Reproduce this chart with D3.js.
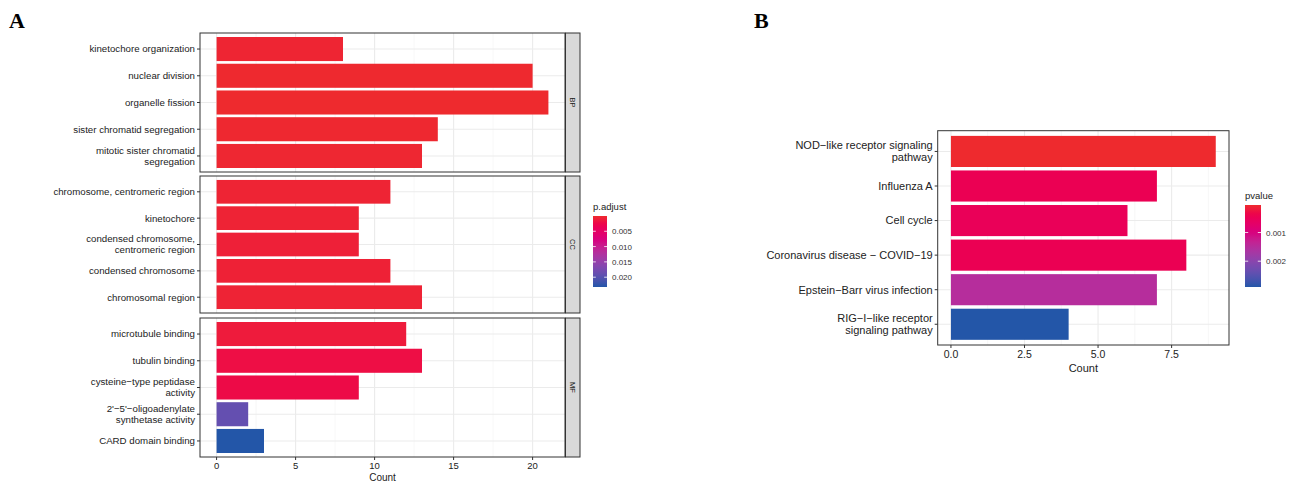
<!DOCTYPE html>
<html>
<head>
<meta charset="utf-8">
<script src="https://cdn.jsdelivr.net/npm/d3@7"></script>
<style>
  body { margin: 0; background: #fff; }
  svg { display: block; font-family: "Liberation Sans", Arial, sans-serif; }
</style>
</head>
<body>
<svg id="chart" width="1297" height="485"></svg>
<script>
// ---- data: panel A (GO), top-to-bottom within each facet
const goFacets = ["BP", "CC", "MF"];
const goTerms = [
  ["kinetochore organization", "nuclear division", "organelle fission",
   "sister chromatid segregation", "mitotic sister chromatid\nsegregation"],
  ["chromosome, centromeric region", "kinetochore", "condensed chromosome,\ncentromeric region",
   "condensed chromosome", "chromosomal region"],
  ["microtubule binding", "tubulin binding", "cysteine\u2212type peptidase\nactivity",
   "2'\u22125'\u2212oligoadenylate\nsynthetase activity", "CARD domain binding"]
];
const goCounts = [
  [8, 20, 21, 14, 13],
  [11, 9, 9, 11, 13],
  [12, 13, 9, 2, 3]
];
const goPadj = [
  [0.0004, 0.0001, 0.00002, 0.0002, 0.0003],
  [0.0005, 0.0006, 0.0008, 0.0007, 0.0006],
  [0.0012, 0.0020, 0.0022, 0.0190, 0.0232]
];
const goTicks = [0, 5, 10, 15, 20];
const goLegendTicks = [0.005, 0.010, 0.015, 0.020];

// ---- data: panel B (KEGG)
const keggTerms = ["NOD\u2212like receptor signaling\npathway", "Influenza A", "Cell cycle",
  "Coronavirus disease \u2212 COVID\u221219", "Epstein\u2212Barr virus infection",
  "RIG\u2212I\u2212like receptor\nsignaling pathway"];
const keggCounts = [9, 7, 6, 8, 7, 4];
const keggP = [0.00004, 0.00045, 0.0005, 0.00045, 0.0015, 0.0029];
const keggTicks = [0, 2.5, 5, 7.5];
const keggLegendTicks = [0.001, 0.002];

const LOW = "#EE2A2E", HIGH = "#2356A8";
const svg = d3.select("#chart");

function colorScale(vals) {
  return d3.scaleLinear().domain(d3.extent(vals)).range([LOW, HIGH]).interpolate(d3.interpolateHcl);
}

// draws one ggplot-like panel of horizontal bars
function drawPanel(g, terms, counts, fills, x, y0, y1, fontSize, tickVals, minorVals) {
  const y = d3.scaleBand().domain(terms).range([y0, y1]).paddingInner(0.1).paddingOuter(0.15);
  const [xl, xr] = x.range();
  g.append("rect").attr("x", xl).attr("y", y0).attr("width", xr - xl).attr("height", y1 - y0).attr("fill", "#fff");
  g.selectAll(".minor").data(minorVals).join("line")
    .attr("x1", d => x(d)).attr("x2", d => x(d)).attr("y1", y0).attr("y2", y1)
    .attr("stroke", "#F2F2F2").attr("stroke-width", 0.6);
  g.selectAll(".major").data(tickVals).join("line")
    .attr("x1", d => x(d)).attr("x2", d => x(d)).attr("y1", y0).attr("y2", y1)
    .attr("stroke", "#EBEBEB").attr("stroke-width", 1.1);
  g.selectAll(".hgrid").data(terms).join("line")
    .attr("x1", xl).attr("x2", xr).attr("y1", d => y(d) + y.bandwidth() / 2).attr("y2", d => y(d) + y.bandwidth() / 2)
    .attr("stroke", "#EBEBEB").attr("stroke-width", 1.1);
  g.selectAll(".bar").data(terms).join("rect")
    .attr("x", x(0)).attr("y", d => y(d))
    .attr("width", (d, i) => x(counts[i]) - x(0)).attr("height", y.bandwidth())
    .attr("fill", (d, i) => fills[i]);
  g.append("rect").attr("x", xl).attr("y", y0).attr("width", xr - xl).attr("height", y1 - y0)
    .attr("fill", "none").attr("stroke", "#333").attr("stroke-width", 1);
  // y ticks + labels
  terms.forEach(t => {
    const cy = y(t) + y.bandwidth() / 2;
    g.append("line").attr("x1", xl - 3).attr("x2", xl).attr("y1", cy).attr("y2", cy).attr("stroke", "#333");
    const lines = t.split("\n");
    const lh = fontSize * 1.12;
    const txt = g.append("text").attr("text-anchor", "end").attr("font-size", fontSize).attr("fill", "#222");
    lines.forEach((l, i) => {
      txt.append("tspan").attr("x", xl - 5)
        .attr("y", cy + fontSize * 0.35 + (i - (lines.length - 1) / 2) * lh).text(l);
    });
  });
  return y;
}

function drawXAxis(g, x, yb, ticks, fmt, fontSize) {
  ticks.forEach(t => {
    g.append("line").attr("x1", x(t)).attr("x2", x(t)).attr("y1", yb).attr("y2", yb + 3).attr("stroke", "#333");
    g.append("text").attr("x", x(t)).attr("y", yb + 4 + fontSize * 0.85).attr("text-anchor", "middle")
      .attr("font-size", fontSize).attr("fill", "#222").text(fmt(t));
  });
}

function drawLegend(g, title, vals, ticks, fmt, bx, by, bw, bh) {
  const id = "grad" + title.replace(/\W/g, "");
  const grad = svg.append("defs").append("linearGradient").attr("id", id)
    .attr("x1", 0).attr("y1", 0).attr("x2", 0).attr("y2", 1);
  const c = colorScale(vals);
  const ext = d3.extent(vals);
  d3.range(0, 1.0001, 0.05).forEach(f => {
    grad.append("stop").attr("offset", f).attr("stop-color", c(ext[0] + f * (ext[1] - ext[0])));
  });
  const s = d3.scaleLinear().domain(ext).range([by, by + bh]);
  g.append("text").attr("x", bx).attr("y", by - 6).attr("font-size", 9.5).attr("fill", "#222").text(title);
  g.append("rect").attr("x", bx).attr("y", by).attr("width", bw).attr("height", bh).attr("fill", `url(#${id})`);
  ticks.forEach(t => {
    g.append("line").attr("x1", bx).attr("x2", bx + bw * 0.2).attr("y1", s(t)).attr("y2", s(t)).attr("stroke", "#fff").attr("stroke-width", 0.8);
    g.append("line").attr("x1", bx + bw * 0.8).attr("x2", bx + bw).attr("y1", s(t)).attr("y2", s(t)).attr("stroke", "#fff").attr("stroke-width", 0.8);
    g.append("text").attr("x", bx + bw + 5).attr("y", s(t) + 3).attr("font-size", 8).attr("fill", "#333").text(fmt(t));
  });
}

// ---------------- panel A
const gA = svg.append("g");
gA.append("text").attr("x", 9).attr("y", 28).attr("font-family", "'Liberation Serif', 'Times New Roman', serif")
  .attr("font-weight", "bold").attr("font-size", 22).text("A");

const xA = d3.scaleLinear().domain([-1.05, 22.05]).range([200, 565]);
const facetY = [[33, 172], [176, 313], [318, 457]];
const cA = colorScale(goPadj.flat());
goFacets.forEach((f, k) => {
  const [y0, y1] = facetY[k];
  drawPanel(gA, goTerms[k], goCounts[k], goPadj[k].map(cA), xA, y0, y1, 9.7, goTicks, [2.5, 7.5, 12.5, 17.5]);
  gA.append("rect").attr("x", 565.5).attr("y", y0).attr("width", 14.5).attr("height", y1 - y0)
    .attr("fill", "#D9D9D9").attr("stroke", "#333").attr("stroke-width", 1);
  gA.append("text").attr("transform", `translate(569.5,${(y0 + y1) / 2}) rotate(90)`)
    .attr("text-anchor", "middle").attr("font-size", 7.5).attr("fill", "#1a1a1a").text(f);
});
drawXAxis(gA, xA, 457, goTicks, d3.format("d"), 9.5);
gA.append("text").attr("x", xA(10.5)).attr("y", 481).attr("text-anchor", "middle")
  .attr("font-size", 10).attr("fill", "#222").text("Count");
drawLegend(gA, "p.adjust", goPadj.flat(), goLegendTicks, d3.format(".3f"), 593, 216, 14, 71);

// ---------------- panel B
const gB = svg.append("g");
gB.append("text").attr("x", 754).attr("y", 28).attr("font-family", "'Liberation Serif', 'Times New Roman', serif")
  .attr("font-weight", "bold").attr("font-size", 22).text("B");

const xB = d3.scaleLinear().domain([-0.45, 9.45]).range([937.7, 1229]);
const cB = colorScale(keggP);
drawPanel(gB, keggTerms, keggCounts, keggP.map(cB), xB, 130.7, 345, 11, keggTicks, [1.25, 3.75, 6.25, 8.75]);
drawXAxis(gB, xB, 345, keggTicks, d3.format(".1f"), 10.5);
gB.append("text").attr("x", xB(4.5)).attr("y", 372).attr("text-anchor", "middle")
  .attr("font-size", 11).attr("fill", "#222").text("Count");
drawLegend(gB, "pvalue", keggP, keggLegendTicks, d3.format(".3f"), 1245, 205, 16, 82);
</script>
</body>
</html>
